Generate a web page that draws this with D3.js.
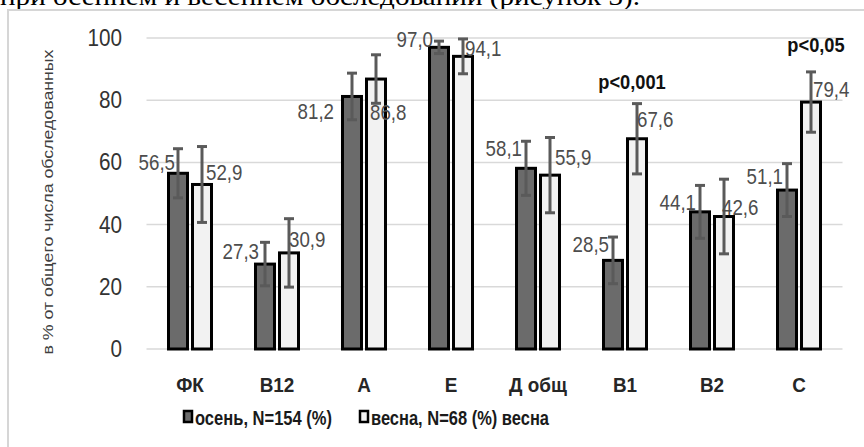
<!DOCTYPE html>
<html><head><meta charset="utf-8">
<script src="https://cdn.jsdelivr.net/npm/d3@7"></script>
<style>html,body{margin:0;padding:0;background:#fff;overflow:hidden}</style>
</head><body>
<svg id="c" width="864" height="447"></svg>
<script>
// ---- data ----
const categories = ["ФК", "B12", "A", "E", "Д общ", "B1", "B2", "C"];
const autumn = [56.5, 27.3, 81.2, 97.0, 58.1, 28.5, 44.1, 51.1];
const spring = [52.9, 30.9, 86.8, 94.1, 55.9, 67.6, 42.6, 79.4];
const autumnErr = [7.9, 7.0, 7.5, 2.0, 8.7, 7.5, 8.5, 8.5];
const springErr = [12.2, 11.0, 7.8, 5.6, 12.1, 11.3, 12.0, 9.7];
const yTicks = [0, 20, 40, 60, 80, 100];
const seriesNames = ["осень, N=154 (%)", "весна, N=68 (%) весна"];
const pCats = ["B1", "C"];
const pTexts = ["p<0,001", "p<0,05"];
const pLevels = [83.5, 95.5];
const yTitle = "в % от общего числа обследованных";
const headerText = "при осеннем и весеннем обследовании (рисунок 3).";

// ---- layout / style ----
const autumnLabelDx = [-3, -6, -18, -6, -4, -4, -4, -4];
const autumnLabelDy = [-3, -5, 23, 0, -12, -8, -2, -6];
const springLabelDx = [4, 0, -6, 2, 5, 0, -2, 2];
const springLabelDy = [-4, -6, 41, 0, -10, -12, -2, -5];
const pDx = [7, 17];

const svg = d3.select("#c");
const x = d3.scaleBand().domain(categories).range([146.5, 842.5]);
const y = d3.scaleLinear().domain([0, 100]).range([349, 38]);

function txt(g, px, py, s, o) {
  return g.append("text")
    .attr("transform", `translate(${px},${py}) scale(${o.sx || 1},1)`)
    .attr("text-anchor", o.anchor || "start")
    .style("font-family", o.family || "'Liberation Sans', Arial, sans-serif")
    .style("font-size", o.size + "px")
    .style("font-weight", o.weight || "normal")
    .attr("fill", o.fill || "#000")
    .text(s);
}

// header (cut-off text line above chart)
svg.append("text").attr("x", 0).attr("y", 5)
  .attr("textLength", 640).attr("lengthAdjust", "spacingAndGlyphs")
  .style("font-family", "'Liberation Serif','Times New Roman',serif")
  .style("font-size", "26px").attr("fill", "#000").text(headerText);

// frame
svg.append("rect").attr("x", 8).attr("y", 10).attr("width", 880).attr("height", 460)
  .attr("fill", "#fff").attr("stroke", "#d6d6d6").attr("stroke-width", 2);

// gridlines
svg.append("g").selectAll("line").data(yTicks).join("line")
  .attr("x1", 146.5).attr("x2", 842.5)
  .attr("y1", d => y(d)).attr("y2", d => y(d))
  .attr("stroke", "#d9d9d9").attr("stroke-width", 1.5);

// y tick labels
const gy = svg.append("g");
yTicks.forEach(t => txt(gy, 122, y(t) + 8, String(t), {size: 23, anchor: "end", sx: 0.9, fill: "#333"}));

// y title
svg.append("text").attr("transform", "translate(53,202) rotate(-90)")
  .attr("text-anchor", "middle").attr("textLength", 305).attr("lengthAdjust", "spacingAndGlyphs")
  .style("font-family", "'Liberation Sans', Arial, sans-serif").style("font-size", "15px")
  .attr("fill", "#404040").text(yTitle);

const cx = c => x(c) + x.bandwidth() / 2;
const barW = 19;
const series = [
  {vals: autumn, err: autumnErr, fill: "#6b6b6b", off: -12},
  {vals: spring, err: springErr, fill: "#f2f2f2", off: 12}
];

series.forEach(s => {
  svg.append("g").selectAll("rect").data(categories).join("rect")
    .attr("x", (c) => cx(c) + s.off - barW / 2)
    .attr("width", barW)
    .attr("y", (c, i) => y(s.vals[i]))
    .attr("height", (c, i) => y(0) - y(s.vals[i]))
    .attr("fill", s.fill).attr("stroke", "#000").attr("stroke-width", 3);
});

// error bars
series.forEach(s => {
  const g = svg.append("g").attr("stroke", "#5a5a5a").attr("stroke-width", 3);
  categories.forEach((c, i) => {
    const xc = cx(c) + s.off;
    const hi = y(s.vals[i] + s.err[i]), lo = y(s.vals[i] - s.err[i]);
    g.append("line").attr("x1", xc).attr("x2", xc).attr("y1", hi).attr("y2", lo);
    g.append("line").attr("x1", xc - 5).attr("x2", xc + 5).attr("y1", hi).attr("y2", hi);
    g.append("line").attr("x1", xc - 5).attr("x2", xc + 5).attr("y1", lo).attr("y2", lo);
  });
});

// data labels
const gl = svg.append("g");
categories.forEach((c, i) => {
  txt(gl, cx(c) - 12 + autumnLabelDx[i], y(autumn[i]) + autumnLabelDy[i],
      autumn[i].toFixed(1).replace(".", ","), {size: 22, anchor: "end", sx: 0.85, fill: "#4d4d4d"});
  txt(gl, cx(c) + 12 + springLabelDx[i], y(spring[i]) + springLabelDy[i],
      spring[i].toFixed(1).replace(".", ","), {size: 22, anchor: "start", sx: 0.85, fill: "#4d4d4d"});
});

// p-values
pCats.forEach((c, i) => txt(gl, cx(c) + pDx[i], y(pLevels[i]), pTexts[i],
  {size: 21, weight: "bold", anchor: "middle", sx: 0.87, fill: "#111"}));

// category labels
const gx = svg.append("g");
categories.forEach(c => txt(gx, cx(c), 392, c, {size: 21, weight: "bold", anchor: "middle", sx: 0.9, fill: "#262626"}));

// legend
const lg = svg.append("g");
const legX = [183, 359], legW = [137, 178];
seriesNames.forEach((n, i) => {
  lg.append("rect").attr("x", legX[i] + 1).attr("y", 411).attr("width", 8).attr("height", 11)
    .attr("fill", series[i].fill).attr("stroke", "#000").attr("stroke-width", 2.5);
  lg.append("text").attr("x", legX[i] + 12).attr("y", 425)
    .attr("textLength", legW[i]).attr("lengthAdjust", "spacingAndGlyphs")
    .style("font-family", "'Liberation Sans', Arial, sans-serif").style("font-size", "21px")
    .style("font-weight", "bold").attr("fill", "#1a1a1a").text(n);
});
</script>
</body></html>
